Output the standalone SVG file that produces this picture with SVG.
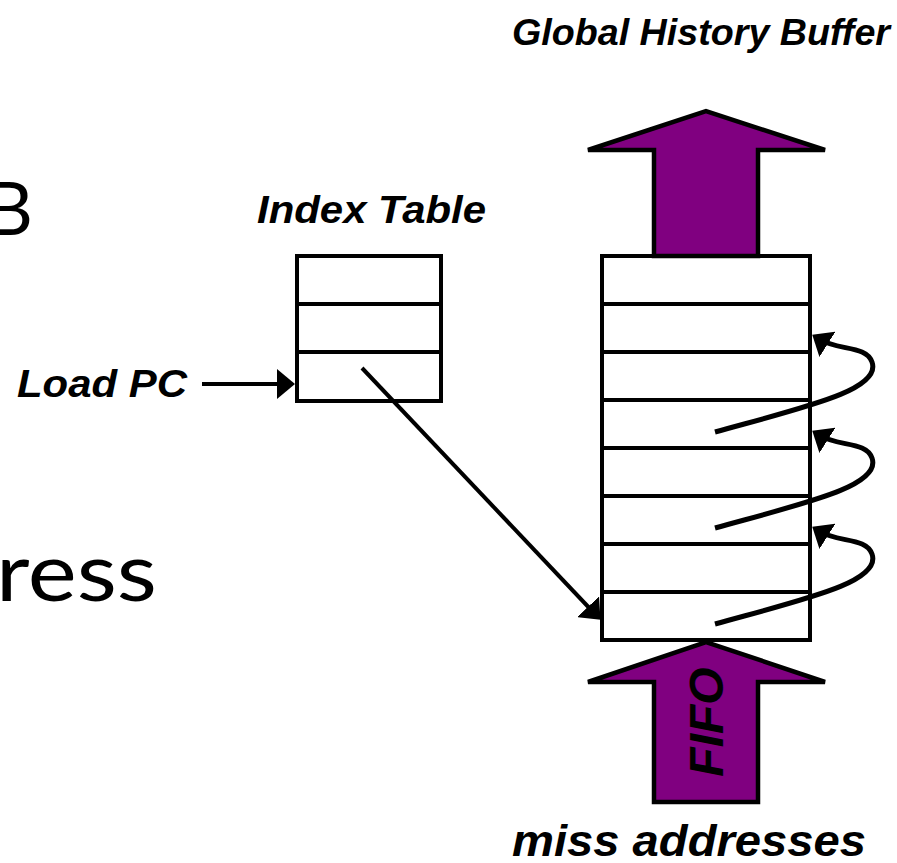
<svg xmlns="http://www.w3.org/2000/svg" width="897" height="863" viewBox="0 0 897 863">
  <style>
    .label { font-family: "Liberation Sans", Arial, sans-serif; font-weight: bold; font-style: italic; fill: #000; }
    .slide { font-family: Lato, "Open Sans", sans-serif; fill: #000; }
    .cell { fill: #fff; stroke: #000; stroke-width: 4; }
    .div { stroke: #000; stroke-width: 4; }
    .big-arrow { fill: #800080; stroke: #000; stroke-width: 4.5; stroke-linejoin: miter; }
    .wire { fill: none; stroke: #000; stroke-width: 4; }
    .loop { fill: none; stroke: #000; stroke-width: 5; }
  </style>
  <defs>
    <marker id="head" viewBox="0 0 18 30" refX="10" refY="15" markerWidth="18" markerHeight="30" markerUnits="userSpaceOnUse" orient="auto">
      <path d="M0,0 L18,15 L0,30 Z" fill="#000"/>
    </marker>
  </defs>

  <rect width="897" height="863" fill="#fff"/>

  <!-- partial slide text at the left edge -->
  <text class="slide" x="33" y="235" font-size="73" text-anchor="end">B</text>
  <text class="slide" x="-4" y="601" font-size="82" textLength="161" lengthAdjust="spacingAndGlyphs">ress</text>

  <!-- title -->
  <text class="label" x="512" y="45" font-size="37" textLength="378" lengthAdjust="spacingAndGlyphs">Global History Buffer</text>

  <!-- index table -->
  <g id="index-table">
    <text class="label" x="257" y="223" font-size="38" textLength="229" lengthAdjust="spacingAndGlyphs">Index Table</text>
    <rect class="cell" x="297" y="256" width="144" height="145"/>
    <line class="div" x1="297" y1="304" x2="441" y2="304"/>
    <line class="div" x1="297" y1="352" x2="441" y2="352"/>
  </g>

  <!-- load PC input -->
  <g id="load-pc">
    <text class="label" x="17" y="397" font-size="38" textLength="170" lengthAdjust="spacingAndGlyphs">Load PC</text>
  </g>

  <!-- global history buffer (8 entries) -->
  <g id="ghb">
    <rect class="cell" x="602" y="256" width="208" height="384"/>
    <line class="div" x1="602" y1="304" x2="810" y2="304"/>
    <line class="div" x1="602" y1="352" x2="810" y2="352"/>
    <line class="div" x1="602" y1="400" x2="810" y2="400"/>
    <line class="div" x1="602" y1="448" x2="810" y2="448"/>
    <line class="div" x1="602" y1="496" x2="810" y2="496"/>
    <line class="div" x1="602" y1="544" x2="810" y2="544"/>
    <line class="div" x1="602" y1="592" x2="810" y2="592"/>
  </g>

  <!-- outgoing (oldest) entries -->
  <g id="out-arrow">
    <path class="big-arrow" d="M654,256 L654,150 L588,150 L706,111 L825,150 L758,150 L758,256 Z"/>
  </g>

  <!-- incoming miss addresses -->
  <g id="in-arrow">
    <path class="big-arrow" d="M654,802 L654,682 L588,682 L706,642 L825,682 L758,682 L758,802 Z"/>
    <text class="label" transform="translate(723,722) rotate(-90)" x="0" y="0" font-size="48" text-anchor="middle">FIFO</text>
  </g>

  <g id="miss-label">
    <text class="label" x="512" y="856" font-size="44" textLength="354" lengthAdjust="spacingAndGlyphs">miss addresses</text>
  </g>

  <!-- connectors -->
  <g id="connectors">
    <line class="wire" x1="202" y1="384" x2="287" y2="384" marker-end="url(#head)"/>
    <line class="wire" x1="362" y1="368" x2="595" y2="614" marker-end="url(#head)"/>
    <path class="loop" d="M715,432 C805,407 882,390 872,362 C866,345 838,351 819,339" marker-end="url(#head)"/>
    <path class="loop" d="M715,528 C805,503 882,486 872,458 C866,441 838,447 819,435" marker-end="url(#head)"/>
    <path class="loop" d="M715,624 C805,599 882,582 872,554 C866,537 838,543 819,531" marker-end="url(#head)"/>
  </g>
</svg>
